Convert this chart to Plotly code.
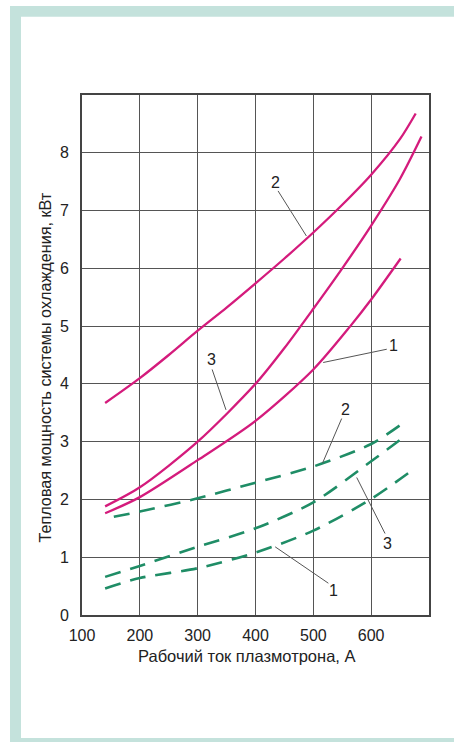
import plotly.graph_objects as go

# Thermal power of the cooling system vs. plasma torch operating current
# Solid curves (magenta) and dashed curves (green), each numbered 1..3
current_s1 = [140, 200, 300, 400, 500, 564, 600, 651]
power_s1 = [1.76, 2.04, 2.68, 3.36, 4.25, 5.0, 5.46, 6.17]

current_s2 = [140, 200, 250, 300, 350, 400, 450, 500, 550, 600, 650, 677]
power_s2 = [3.67, 4.1, 4.5, 4.92, 5.32, 5.74, 6.17, 6.62, 7.1, 7.62, 8.24, 8.68]

current_s3 = [140, 200, 300, 400, 450, 500, 550, 600, 650, 687]
power_s3 = [1.88, 2.21, 3.0, 4.0, 4.62, 5.3, 6.0, 6.74, 7.55, 8.28]

current_d1 = [140, 200, 300, 400, 500, 600, 673]
power_d1 = [0.46, 0.64, 0.81, 1.08, 1.46, 2.01, 2.52]

current_d2 = [155, 200, 300, 400, 500, 600, 662]
power_d2 = [1.70, 1.79, 2.02, 2.29, 2.57, 2.96, 3.37]

current_d3 = [140, 200, 300, 400, 500, 600, 662]
power_d3 = [0.66, 0.85, 1.18, 1.50, 1.95, 2.66, 3.12]

x_ticks = [100, 200, 300, 400, 500, 600]
y_ticks = [0, 1, 2, 3, 4, 5, 6, 7, 8]

x_title = "Рабочий ток плазмотрона, А"
y_title = "Тепловая мощность системы охлаждения, кВт"

MAGENTA = "#d41b7c"
GREEN = "#1f8d66"
TEAL = "#c4e2dc"
GRID = "#555555"
TEXT = "#222222"
FONT = "Liberation Sans, Arial, sans-serif"

W, H = 454, 742
L, R, T, B = 82, 25, 95, 127
PW, PH = W - L - R, H - T - B


def px_x(px):
    return (px - L) / PW


def px_y(py):
    return (H - B - py) / PH


fig = go.Figure()

solid = [(current_s1, power_s1), (current_s2, power_s2), (current_s3, power_s3)]
dashed = [(current_d1, power_d1), (current_d2, power_d2), (current_d3, power_d3)]

for xs, ys in solid:
    fig.add_trace(go.Scatter(x=xs, y=ys, mode="lines",
                             line=dict(color=MAGENTA, width=2.3, shape="spline", smoothing=0.8),
                             showlegend=False, hoverinfo="skip"))
for xs, ys in dashed:
    fig.add_trace(go.Scatter(x=xs, y=ys, mode="lines",
                             line=dict(color=GREEN, width=2.6, dash="16px,10px",
                                       shape="spline", smoothing=0.8),
                             showlegend=False, hoverinfo="skip"))

# Curve numbers with leader lines: (label, text x, text y, line from, line to)
labels = [
    ("2", 435, 7.48, (439, 7.34), (488, 6.56)),
    ("3", 324, 4.43, (325, 4.25), (349, 3.55)),
    ("1", 638, 4.67, (627, 4.60), (517, 4.37)),
    ("2", 555, 3.55, (549, 3.40), (516, 2.63)),
    ("3", 629, 1.24, (624, 1.41), (575, 2.38)),
    ("1", 535, 0.42, (526, 0.55), (434, 1.18)),
]

shapes = []
annotations = []
for text, tx, ty, (x0, y0), (x1, y1) in labels:
    shapes.append(dict(type="line", xref="x", yref="y", x0=x0, y0=y0, x1=x1, y1=y1,
                       line=dict(color="#555555", width=1), layer="above"))
    annotations.append(dict(x=tx, y=ty, xref="x", yref="y", text=text, showarrow=False,
                            font=dict(family=FONT, size=16, color=TEXT)))

# Teal frame around the figure
frame = [
    (10, 6, 21, 742),
    (10, 6, 454, 16.7),
    (10, 738, 454, 742),
]
for x0, y0, x1, y1 in frame:
    shapes.append(dict(type="rect", xref="paper", yref="paper",
                       x0=px_x(x0), x1=px_x(x1), y0=px_y(y1), y1=px_y(y0),
                       fillcolor=TEAL, line=dict(width=0), layer="below"))

annotations.append(dict(xref="paper", yref="paper", x=px_x(246.7), y=px_y(656),
                        text=x_title, showarrow=False, xanchor="center", yanchor="middle",
                        font=dict(family=FONT, size=16.5, color=TEXT)))
annotations.append(dict(xref="paper", yref="paper", x=px_x(44), y=px_y(367.5),
                        text=y_title, showarrow=False, textangle=-90,
                        xanchor="center", yanchor="middle",
                        font=dict(family=FONT, size=16.2, color=TEXT)))

fig.update_layout(
    width=W, height=H,
    margin=dict(l=L, r=R, t=T, b=B, pad=0),
    paper_bgcolor="white", plot_bgcolor="white",
    shapes=shapes, annotations=annotations,
    showlegend=False,
    font=dict(family=FONT, size=16, color=TEXT),
)
fig.update_xaxes(range=[100, 700], tickvals=x_ticks, ticktext=[str(v) for v in x_ticks],
                 showgrid=True, gridcolor=GRID, gridwidth=1.3, zeroline=False,
                 showline=True, mirror=True, linecolor="#444444", linewidth=1.6,
                 ticks="", ticklabelstandoff=5,
                 tickfont=dict(family=FONT, size=16, color=TEXT))
fig.update_yaxes(range=[0, 9], tickvals=y_ticks, ticktext=[str(v) for v in y_ticks],
                 showgrid=True, gridcolor=GRID, gridwidth=1.3, zeroline=False,
                 showline=True, mirror=True, linecolor="#444444", linewidth=1.6,
                 ticks="", ticklabelstandoff=8,
                 tickfont=dict(family=FONT, size=16, color=TEXT))

fig.write_html("out.html")
